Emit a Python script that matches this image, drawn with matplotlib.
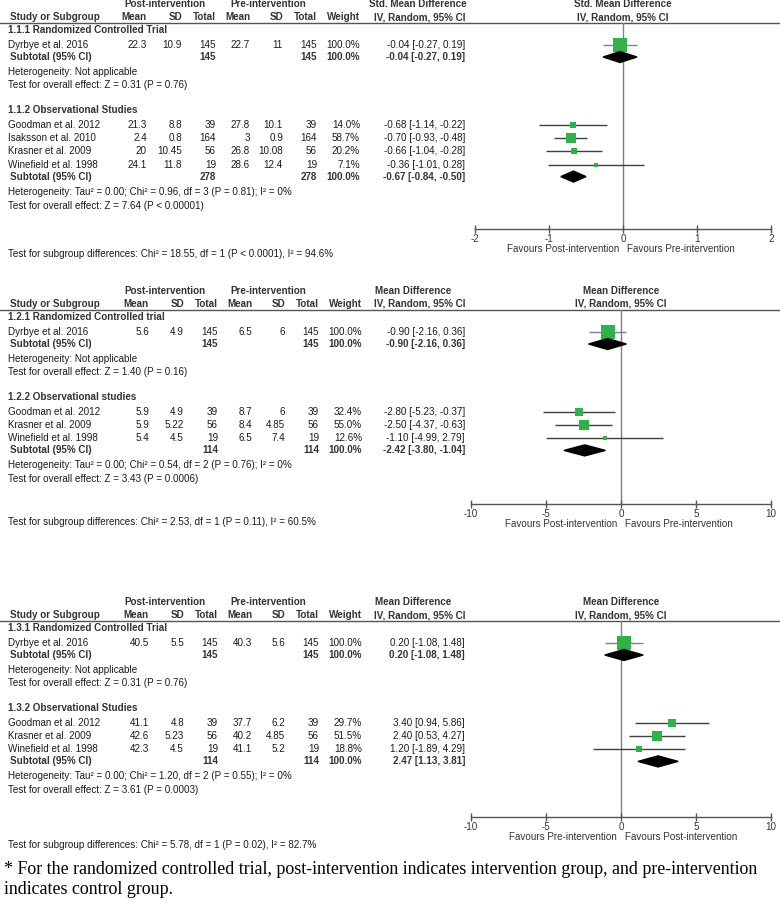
import numpy as np
import matplotlib.pyplot as plt
from matplotlib.patches import Polygon

plt.rcParams['font.family'] = ['Liberation Sans', 'DejaVu Sans']
plt.rcParams['axes.unicode_minus'] = False

# ---------------- data: panel 1 (Std. Mean Difference) ----------------
p1_study = ['Dyrbye et al. 2016', 'Goodman et al. 2012', 'Isaksson et al. 2010',
            'Krasner et al. 2009', 'Winefield et al. 1998']
p1_post_mean = [22.3, 21.3, 2.4, 20, 24.1]
p1_post_sd = [10.9, 8.8, 0.8, 10.45, 11.8]
p1_post_n = [145, 39, 164, 56, 19]
p1_pre_mean = [22.7, 27.8, 3, 26.8, 28.6]
p1_pre_sd = [11, 10.1, 0.9, 10.08, 12.4]
p1_pre_n = [145, 39, 164, 56, 19]
p1_weight = [100.0, 14.0, 58.7, 20.2, 7.1]
p1_est = [-0.04, -0.68, -0.70, -0.66, -0.36]
p1_lo = [-0.27, -1.14, -0.93, -1.04, -1.01]
p1_hi = [0.19, -0.22, -0.48, -0.28, 0.28]
p1_sub_n = [145, 278]
p1_sub_est = [-0.04, -0.67]
p1_sub_lo = [-0.27, -0.84]
p1_sub_hi = [0.19, -0.50]
p1_groups = ['1.1.1 Randomized Controlled Trial', '1.1.2 Observational Studies']
p1_het = ['Heterogeneity: Not applicable',
          'Heterogeneity: Tau² = 0.00; Chi² = 0.96, df = 3 (P = 0.81); I² = 0%']
p1_test = ['Test for overall effect: Z = 0.31 (P = 0.76)',
           'Test for overall effect: Z = 7.64 (P < 0.00001)']
p1_subgroup = 'Test for subgroup differences: Chi² = 18.55, df = 1 (P < 0.0001), I² = 94.6%'
p1_ticks = [-2, -1, 0, 1, 2]
p1_favours = ['Favours Post-intervention', 'Favours Pre-intervention']

# ---------------- data: panel 2 (Mean Difference) ----------------
p2_study = ['Dyrbye et al. 2016', 'Goodman et al. 2012', 'Krasner et al. 2009',
            'Winefield et al. 1998']
p2_post_mean = [5.6, 5.9, 5.9, 5.4]
p2_post_sd = [4.9, 4.9, 5.22, 4.5]
p2_post_n = [145, 39, 56, 19]
p2_pre_mean = [6.5, 8.7, 8.4, 6.5]
p2_pre_sd = [6, 6, 4.85, 7.4]
p2_pre_n = [145, 39, 56, 19]
p2_weight = [100.0, 32.4, 55.0, 12.6]
p2_est = [-0.90, -2.80, -2.50, -1.10]
p2_lo = [-2.16, -5.23, -4.37, -4.99]
p2_hi = [0.36, -0.37, -0.63, 2.79]
p2_sub_n = [145, 114]
p2_sub_est = [-0.90, -2.42]
p2_sub_lo = [-2.16, -3.80]
p2_sub_hi = [0.36, -1.04]
p2_groups = ['1.2.1 Randomized Controlled trial', '1.2.2 Observational studies']
p2_het = ['Heterogeneity: Not applicable',
          'Heterogeneity: Tau² = 0.00; Chi² = 0.54, df = 2 (P = 0.76); I² = 0%']
p2_test = ['Test for overall effect: Z = 1.40 (P = 0.16)',
           'Test for overall effect: Z = 3.43 (P = 0.0006)']
p2_subgroup = 'Test for subgroup differences: Chi² = 2.53, df = 1 (P = 0.11), I² = 60.5%'
p2_ticks = [-10, -5, 0, 5, 10]
p2_favours = ['Favours Post-intervention', 'Favours Pre-intervention']

# ---------------- data: panel 3 (Mean Difference) ----------------
p3_study = ['Dyrbye et al. 2016', 'Goodman et al. 2012', 'Krasner et al. 2009',
            'Winefield et al. 1998']
p3_post_mean = [40.5, 41.1, 42.6, 42.3]
p3_post_sd = [5.5, 4.8, 5.23, 4.5]
p3_post_n = [145, 39, 56, 19]
p3_pre_mean = [40.3, 37.7, 40.2, 41.1]
p3_pre_sd = [5.6, 6.2, 4.85, 5.2]
p3_pre_n = [145, 39, 56, 19]
p3_weight = [100.0, 29.7, 51.5, 18.8]
p3_est = [0.20, 3.40, 2.40, 1.20]
p3_lo = [-1.08, 0.94, 0.53, -1.89]
p3_hi = [1.48, 5.86, 4.27, 4.29]
p3_sub_n = [145, 114]
p3_sub_est = [0.20, 2.47]
p3_sub_lo = [-1.08, 1.13]
p3_sub_hi = [1.48, 3.81]
p3_groups = ['1.3.1 Randomized Controlled Trial', '1.3.2 Observational Studies']
p3_het = ['Heterogeneity: Not applicable',
          'Heterogeneity: Tau² = 0.00; Chi² = 1.20, df = 2 (P = 0.55); I² = 0%']
p3_test = ['Test for overall effect: Z = 0.31 (P = 0.76)',
           'Test for overall effect: Z = 3.61 (P = 0.0003)']
p3_subgroup = 'Test for subgroup differences: Chi² = 5.78, df = 1 (P = 0.02), I² = 82.7%'
p3_ticks = [-10, -5, 0, 5, 10]
p3_favours = ['Favours Pre-intervention', 'Favours Post-intervention']

footnote = ['* For the randomized controlled trial, post-intervention indicates intervention group, and pre-intervention',
            'indicates control group.']

# ---------------- figure ----------------
W, H = 780, 913
FS = 7.1
TXT = '#1a1a1a'
HDR = '#333333'
GREEN = '#2db34a'

fig = plt.figure(figsize=(W / 100, H / 100), dpi=100)
bg = fig.add_axes([0, 0, 1, 1])
bg.set_xlim(0, W)
bg.set_ylim(H, 0)
bg.axis('off')


def fmt(v):
    return f'{v:g}'


def ci_text(e, l, h):
    return f'{e:.2f} [{l:.2f}, {h:.2f}]'


def draw_panel(top, axis_y, sub_y, ax_x0, ax_x1, shift, measure, ticks, favours,
               study, post_mean, post_sd, post_n, pre_mean, pre_sd, pre_n, weight,
               est, lo, hi, sub_n, sub_est, sub_lo, sub_hi, groups, het, test, subgroup):
    # column right edges
    cols = [147, 182, 216, 250, 283, 317, 360]
    cols = [c + shift for c in cols]
    ci_x = 465
    zero_x = (ax_x0 + ax_x1) / 2

    # header
    bg.text(165, top, 'Post-intervention', ha='center', va='center', fontsize=FS, fontweight='bold', color=HDR)
    bg.text(268, top, 'Pre-intervention', ha='center', va='center', fontsize=FS, fontweight='bold', color=HDR)
    bg.text(418 if measure.startswith('Std') else 413, top, measure, ha='center', va='center',
            fontsize=FS, fontweight='bold', color=HDR)
    bg.text(zero_x, top, measure, ha='center', va='center', fontsize=FS, fontweight='bold', color=HDR)
    h2 = top + 13
    bg.text(10, h2, 'Study or Subgroup', ha='left', va='center', fontsize=FS, fontweight='bold', color=HDR)
    for x, lab in zip(cols, ['Mean', 'SD', 'Total', 'Mean', 'SD', 'Total', 'Weight']):
        bg.text(x, h2, lab, ha='right', va='center', fontsize=FS, fontweight='bold', color=HDR)
    bg.text(ci_x + 1, h2, 'IV, Random, 95% CI', ha='right', va='center', fontsize=FS, fontweight='bold', color=HDR)
    bg.text(zero_x, h2, 'IV, Random, 95% CI', ha='center', va='center', fontsize=FS, fontweight='bold', color=HDR)
    rule = top + 19
    bg.plot([0, W], [rule, rule], color='#555555', lw=1)

    # row positions
    n_obs = len(study) - 1
    study_y = [top + 41] + [top + 121 + 13.2 * i for i in range(n_obs)]
    sub_ys = [top + 53, study_y[-1] + 12]
    group_ys = [top + 26, top + 106]
    het_ys = [top + 68, sub_ys[1] + 15]
    test_ys = [top + 81, sub_ys[1] + 29]

    for g in range(2):
        bg.text(8, group_ys[g], groups[g], ha='left', va='center', fontsize=FS, fontweight='bold', color=HDR)
        bg.text(8, het_ys[g], het[g], ha='left', va='center', fontsize=FS, color=TXT)
        bg.text(8, test_ys[g], test[g], ha='left', va='center', fontsize=FS, color=TXT)
        y = sub_ys[g]
        bg.text(10, y, 'Subtotal (95% CI)', ha='left', va='center', fontsize=FS, fontweight='bold', color=HDR)
        bg.text(cols[2], y, str(sub_n[g]), ha='right', va='center', fontsize=FS, fontweight='bold', color=HDR)
        bg.text(cols[5], y, str(sub_n[g]), ha='right', va='center', fontsize=FS, fontweight='bold', color=HDR)
        bg.text(cols[6], y, '100.0%', ha='right', va='center', fontsize=FS, fontweight='bold', color=HDR)
        bg.text(ci_x, y, ci_text(sub_est[g], sub_lo[g], sub_hi[g]), ha='right', va='center',
                fontsize=FS, fontweight='bold', color=HDR)

    for i, y in enumerate(study_y):
        bg.text(8, y, study[i], ha='left', va='center', fontsize=FS, color=TXT)
        vals = [fmt(post_mean[i]), fmt(post_sd[i]), str(post_n[i]), fmt(pre_mean[i]),
                fmt(pre_sd[i]), str(pre_n[i]), f'{weight[i]:.1f}%']
        for x, v in zip(cols, vals):
            bg.text(x, y, v, ha='right', va='center', fontsize=FS, color=TXT)
        bg.text(ci_x, y, ci_text(est[i], lo[i], hi[i]), ha='right', va='center', fontsize=FS, color=TXT)

    bg.text(8, sub_y, subgroup, ha='left', va='center', fontsize=FS, color=TXT)

    # forest plot
    ax = fig.add_axes([ax_x0 / W, 1 - axis_y / H, (ax_x1 - ax_x0) / W, (axis_y - rule) / H])
    ax.set_xlim(ticks[0], ticks[-1])
    ax.set_ylim(axis_y, rule)
    ax.patch.set_visible(False)
    for s in ['top', 'left', 'right']:
        ax.spines[s].set_visible(False)
    ax.spines['bottom'].set_color('#555555')
    ax.spines['bottom'].set_linewidth(1)
    ax.set_yticks([])
    ax.set_xticks(ticks)
    ax.set_xticklabels([str(t) for t in ticks])
    ax.tick_params(axis='x', direction='inout', length=6, width=1, colors='#555555',
                   labelsize=FS, labelcolor=HDR, pad=0.5)
    ax.axvline(0, color='#808080', lw=1, zorder=1)

    for i, y in enumerate(study_y):
        ax.hlines(y, lo[i], hi[i], color='#808080' if i == 0 else '#404040', lw=1, zorder=2)
        side = 14 * np.sqrt(weight[i] / 100) * 0.72
        ax.scatter([est[i]], [y], marker='s', s=side ** 2, color=GREEN, linewidths=0, zorder=3)
    for g in range(2):
        y = sub_ys[g]
        ax.add_patch(Polygon([(sub_lo[g], y), (sub_est[g], y - 5.5), (sub_hi[g], y), (sub_est[g], y + 5.5)],
                             closed=True, color='black', zorder=3))

    fav_y = axis_y + 20
    ax.text(0, fav_y, favours[0], transform=ax.transData, ha='right', va='center',
            fontsize=FS, color=HDR, clip_on=False)
    ax.text(0, fav_y, favours[1], transform=ax.transData, ha='left', va='center',
            fontsize=FS, color=HDR, clip_on=False)
    # nudge favours labels apart from the zero line
    for t, dx in zip(ax.texts[-2:], [-4, 4]):
        t.set_x(dx * (ticks[-1] - ticks[0]) / (ax_x1 - ax_x0))


draw_panel(4, 229, 254, 475, 771, 0, 'Std. Mean Difference', p1_ticks, p1_favours,
           p1_study, p1_post_mean, p1_post_sd, p1_post_n, p1_pre_mean, p1_pre_sd, p1_pre_n,
           p1_weight, p1_est, p1_lo, p1_hi, p1_sub_n, p1_sub_est, p1_sub_lo, p1_sub_hi,
           p1_groups, p1_het, p1_test, p1_subgroup)
draw_panel(291, 504, 522, 471, 771, 2, 'Mean Difference', p2_ticks, p2_favours,
           p2_study, p2_post_mean, p2_post_sd, p2_post_n, p2_pre_mean, p2_pre_sd, p2_pre_n,
           p2_weight, p2_est, p2_lo, p2_hi, p2_sub_n, p2_sub_est, p2_sub_lo, p2_sub_hi,
           p2_groups, p2_het, p2_test, p2_subgroup)
draw_panel(602, 817, 845, 471, 771, 2, 'Mean Difference', p3_ticks, p3_favours,
           p3_study, p3_post_mean, p3_post_sd, p3_post_n, p3_pre_mean, p3_pre_sd, p3_pre_n,
           p3_weight, p3_est, p3_lo, p3_hi, p3_sub_n, p3_sub_est, p3_sub_lo, p3_sub_hi,
           p3_groups, p3_het, p3_test, p3_subgroup)

bg.text(4, 870, footnote[0], ha='left', va='center', fontsize=12.9, family='Liberation Serif', color='black')
bg.text(4, 889, footnote[1], ha='left', va='center', fontsize=12.9, family='Liberation Serif', color='black')

fig.savefig('out.png', dpi=100)
